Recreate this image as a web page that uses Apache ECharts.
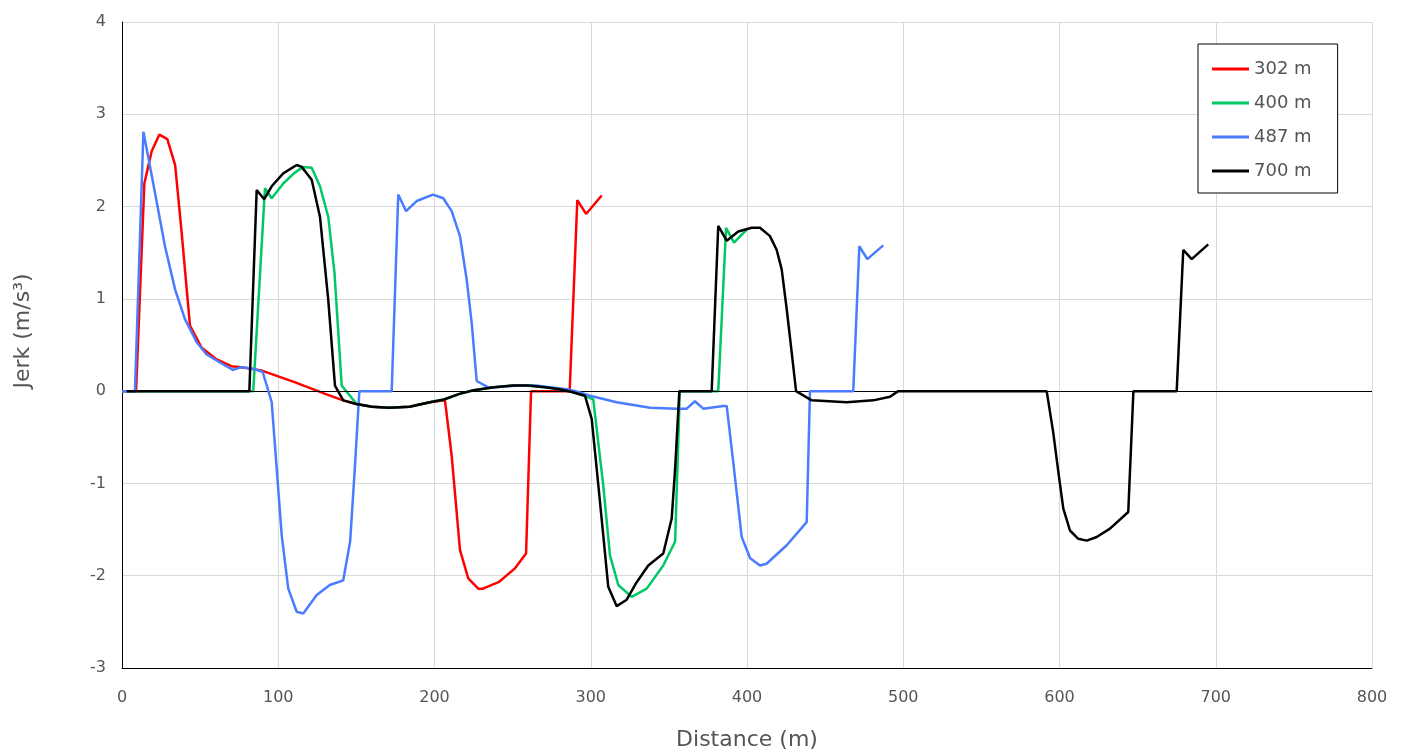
<!DOCTYPE html>
<html>
<head>
	<meta http-equiv="Content-Type" content="text/html; charset=UTF-8">
	<title>Jerk vs distance</title>
	<style type="text/css">
		html, body { margin: 0; padding: 0; background: #fff; }
		#chart { width: 1408px; height: 756px; }
	</style>
	<script src="https://cdn.jsdelivr.net/npm/echarts@6/dist/echarts.min.js"></script>
</head>
<body>
	<div id="chart"></div>
<script type="text/javascript">
// axis ticks
var xTicks = [0, 100, 200, 300, 400, 500, 600, 700, 800];
var yTicks = [-3, -2, -1, 0, 1, 2, 3, 4];

// 302 m
var dist302 = [0, 9, 14.3, 19, 23.9, 29, 34, 38, 43.5, 51, 60, 70, 80, 90, 100, 110, 120, 130, 141.6, 150,
	160, 171, 184, 197, 206.7, 211, 216.3, 221.6, 228, 231, 241, 251.5, 258.6, 261.8, 286.5, 291.4, 297, 307];
var jerk302 = [0, 0, 2.25, 2.6, 2.78, 2.73, 2.45, 1.75, 0.71, 0.47, 0.35, 0.27, 0.25, 0.22, 0.16, 0.1, 0.035, -0.03, -0.1, -0.14,
	-0.17, -0.18, -0.17, -0.12, -0.1, -0.7, -1.72, -2.03, -2.14, -2.14, -2.07, -1.92, -1.76, 0, 0, 2.07, 1.92, 2.12];

// 400 m
var dist400 = [0, 84, 91.5, 95.8, 103.2, 110, 116, 121.4, 126.7, 132, 136, 140.6, 150.2, 160, 171, 184, 197, 206, 216, 225,
	237, 250, 260, 272, 280, 288, 296, 301.6, 308, 312.3, 317.6, 326.2, 335.8, 346.4, 354, 357, 381.6, 386.6, 391.7, 399.8];
var jerk400 = [0, 0, 2.2, 2.09, 2.25, 2.36, 2.43, 2.42, 2.22, 1.89, 1.28, 0.06, -0.14, -0.17, -0.18, -0.17, -0.12, -0.09, -0.03, 0.01,
	0.04, 0.06, 0.06, 0.04, 0.02, -0.01, -0.05, -0.09, -1.02, -1.78, -2.1, -2.23, -2.14, -1.89, -1.63, 0, 0, 1.77, 1.61, 1.75];

// 487 m
var dist487 = [0, 8.3, 13.7, 20, 27.5, 34, 40.3, 47.8, 54, 62.7, 71, 76.6, 84, 90, 95.8, 99, 102.2, 106.4, 111.8, 116,
	124.6, 133, 141.6, 146, 149, 151.9, 172.6, 176.8, 181.8, 188.6, 199, 205.6, 211, 216.3, 220.6, 223.8, 227, 234.4, 245, 255,
	265, 275, 285, 292, 299.5, 316.6, 338, 355, 361.4, 366.7, 372, 384.8, 387, 391.2, 396.6, 402, 408.3, 412.5, 425.4, 438.2,
	440.3, 468, 471.9, 477, 487.2];
var jerk487 = [0, 0, 2.81, 2.25, 1.57, 1.1, 0.78, 0.53, 0.4, 0.31, 0.23, 0.26, 0.24, 0.21, -0.12, -0.84, -1.56, -2.14, -2.39, -2.41,
	-2.21, -2.1, -2.05, -1.63, -0.84, 0, 0, 2.13, 1.95, 2.06, 2.13, 2.09, 1.95, 1.68, 1.21, 0.74, 0.11, 0.04, 0.05, 0.06,
	0.06, 0.04, 0.02, -0.01, -0.05, -0.12, -0.18, -0.19, -0.19, -0.11, -0.19, -0.16, -0.16, -0.77, -1.58, -1.81, -1.89, -1.87, -1.67, -1.42,
	0, 0, 1.57, 1.43, 1.58];

// 700 m
var dist700 = [3, 81.5, 86.2, 91, 95.8, 103.2, 111.8, 115, 121.4, 126.7, 132, 136.3, 141.6, 150, 160, 171, 184, 197, 206, 216,
	225, 237, 250, 260, 272, 280, 288, 296.3, 300.6, 303.8, 308, 311.2, 316.6, 323, 329.4, 336.8, 346.4, 351.8, 354, 356.7,
	377.4, 381.6, 387, 394.4, 403, 408.3, 414.7, 419, 422.2, 425.4, 428.6, 431.4, 441.4, 463.8, 480.8, 491.5, 496.8, 591.8, 596, 599.3,
	602.4, 606.7, 612, 617.4, 623.8, 632.3, 644, 647.3, 675, 679.2, 684.6, 695.2];
var jerk700 = [0, 0, 2.18, 2.08, 2.22, 2.36, 2.45, 2.43, 2.29, 1.89, 0.99, 0.06, -0.1, -0.14, -0.17, -0.18, -0.17, -0.12, -0.09, -0.03,
	0.01, 0.04, 0.06, 0.06, 0.04, 0.02, -0.01, -0.05, -0.3, -0.84, -1.56, -2.12, -2.33, -2.26, -2.07, -1.89, -1.76, -1.38, -0.84, 0,
	0, 1.79, 1.63, 1.73, 1.77, 1.77, 1.68, 1.53, 1.32, 0.89, 0.42, 0, -0.1, -0.12, -0.1, -0.06, 0, 0, -0.45, -0.88,
	-1.27, -1.51, -1.6, -1.62, -1.58, -1.49, -1.31, 0, 0, 1.53, 1.43, 1.59];

var seriesNames = ['302 m', '400 m', '487 m', '700 m'];
var seriesColors = ['#ff0000', '#00c864', '#4a7cff', '#000000'];

function pairs(xs, ys){
	var out = [];
	for (var i = 0; i < xs.length; i++) out.push([xs[i], ys[i]]);
	return out;
}

var font = 'DejaVu Sans';
var chart = echarts.init(document.getElementById('chart'));

var allData = [pairs(dist302, jerk302), pairs(dist400, jerk400), pairs(dist487, jerk487), pairs(dist700, jerk700)];
var series = [];
for (var k = 0; k < seriesNames.length; k++) {
	series.push({
		name: seriesNames[k],
		type: 'line',
		data: allData[k],
		showSymbol: false,
		symbol: 'none',
		lineStyle: { color: seriesColors[k], width: 2.5 },
		itemStyle: { color: seriesColors[k] },
		z: 3 + k
	});
}
// zero line
series[0].markLine = {
	silent: true,
	symbol: 'none',
	label: { show: false },
	lineStyle: { color: '#000', width: 1, type: 'solid' },
	data: [{ yAxis: 0 }]
};

chart.setOption({
	animation: false,
	backgroundColor: '#fff',
	textStyle: { fontFamily: font },
	grid: { left: 122, right: 36, top: 22, bottom: 86 },
	legend: {
		orient: 'vertical',
		left: 1198,
		top: 44,
		padding: [16, 26, 13, 14],
		itemGap: 16,
		itemWidth: 37,
		itemHeight: 3,
		icon: 'rect',
		borderColor: '#000',
		borderWidth: 1,
		backgroundColor: '#fff',
		data: seriesNames,
		textStyle: { fontFamily: font, fontSize: 18, color: '#555' }
	},
	xAxis: {
		type: 'value',
		min: xTicks[0],
		max: xTicks[xTicks.length - 1],
		interval: 100,
		name: 'Distance (m)',
		nameLocation: 'middle',
		nameGap: 61,
		nameTextStyle: { fontFamily: font, fontSize: 22, color: '#555' },
		axisLine: { onZero: false, lineStyle: { color: '#000', width: 1 } },
		axisTick: { show: false },
		axisLabel: { fontFamily: font, fontSize: 16, color: '#555', margin: 22 },
		splitLine: { show: true, lineStyle: { color: '#d9d9d9', width: 1 } }
	},
	yAxis: {
		type: 'value',
		min: yTicks[0],
		max: yTicks[yTicks.length - 1],
		interval: 1,
		name: 'Jerk (m/s³)',
		nameLocation: 'middle',
		nameGap: 88,
		nameRotate: 90,
		nameTextStyle: { fontFamily: font, fontSize: 22, color: '#555', padding: [0, 0, 0, 28] },
		axisLine: { onZero: false, lineStyle: { color: '#000', width: 1 } },
		axisTick: { show: false },
		axisLabel: { fontFamily: font, fontSize: 16, color: '#555', margin: 16 },
		splitLine: { show: true, lineStyle: { color: '#d9d9d9', width: 1 } }
	},
	series: series
});
</script>
</body>
</html>
